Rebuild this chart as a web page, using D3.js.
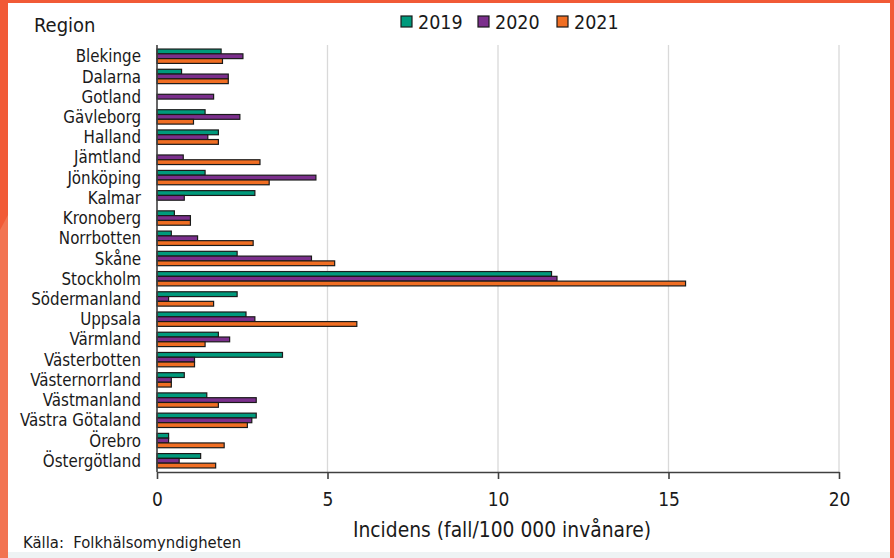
<!DOCTYPE html>
<html>
<head>
<meta charset="utf-8">
<script src="https://cdn.jsdelivr.net/npm/d3@7"></script>
<style>
  body { margin: 0; background: #fff; }
  text { font-family: "DejaVu Sans Condensed", "DejaVu Sans", sans-serif; font-stretch: condensed; fill: #1a1a1a; }
</style>
</head>
<body>
<script>
// data
var regions = ["Blekinge", "Dalarna", "Gotland", "Gävleborg", "Halland", "Jämtland", "Jönköping",
  "Kalmar", "Kronoberg", "Norrbotten", "Skåne", "Stockholm", "Södermanland", "Uppsala",
  "Värmland", "Västerbotten", "Västernorrland", "Västmanland", "Västra Götaland", "Örebro", "Östergötland"];
var years = ["2019", "2020", "2021"];
var v2019 = [1.88, 0.72, 0, 1.41, 1.80, 0, 1.41, 2.87, 0.51, 0.42, 2.35, 11.57, 2.35, 2.61, 1.80, 3.68, 0.80, 1.46, 2.91, 0.34, 1.28];
var v2020 = [2.52, 2.09, 1.66, 2.43, 1.49, 0.77, 4.66, 0.80, 0.98, 1.19, 4.53, 11.73, 0.34, 2.87, 2.13, 1.10, 0.42, 2.91, 2.78, 0.34, 0.65];
var v2021 = [1.92, 2.09, 0, 1.07, 1.80, 3.02, 3.29, 0, 0.98, 2.82, 5.21, 15.5, 1.66, 5.86, 1.41, 1.10, 0.42, 1.80, 2.65, 1.97, 1.72];
var xTicks = [0, 5, 10, 15, 20];

var colours = { "2019": "#009a7c", "2020": "#7b2f8c", "2021": "#f06e23" };
var series = { "2019": v2019, "2020": v2020, "2021": v2021 };

var W = 894, H = 558;
var svg = d3.select("body").append("svg")
    .attr("width", W)
    .attr("height", H);

// slide frame
svg.append("rect").attr("width", W).attr("height", H).attr("fill", "#fff");
svg.append("rect").attr("x", 8).attr("y", 552).attr("width", 882).attr("height", 6).attr("fill", "#eef3f4");
svg.append("rect").attr("x", 0).attr("y", 0).attr("width", W).attr("height", 3).attr("fill", "#f15a36");
svg.append("rect").attr("x", 0).attr("y", 0).attr("width", 8).attr("height", H).attr("fill", "#f15a36");
svg.append("path").attr("d", "M0,230 L8,215 L8,558 L0,558 Z").attr("fill", "#f27452");
svg.append("rect").attr("x", 890).attr("y", 0).attr("width", 4).attr("height", H).attr("fill", "#f15a36");

var x = d3.scaleLinear().domain([0, 20]).range([157, 839]);
var y = d3.scaleBand().domain(regions).range([45, 472]).paddingInner(0.29).paddingOuter(0.2);
var yy = d3.scaleBand().domain(years).range([0, y.bandwidth()]);

// gridlines
svg.append("g").selectAll("line")
    .data(xTicks.slice(1))
    .enter().append("line")
    .attr("x1", function(d) { return x(d); })
    .attr("x2", function(d) { return x(d); })
    .attr("y1", 45)
    .attr("y2", 472)
    .attr("stroke", "#d9d9d9")
    .attr("stroke-width", 1.3);

// bars
var rows = [];
regions.forEach(function(r, i) {
  years.forEach(function(yr) {
    if (series[yr][i] > 0) rows.push({ region: r, year: yr, value: series[yr][i] });
  });
});

svg.append("g").selectAll("rect")
    .data(rows)
    .enter().append("rect")
    .attr("x", x(0))
    .attr("y", function(d) { return y(d.region) + yy(d.year); })
    .attr("width", function(d) { return x(d.value) - x(0); })
    .attr("height", yy.bandwidth())
    .attr("fill", function(d) { return colours[d.year]; })
    .attr("stroke", "#1a1a1a")
    .attr("stroke-width", 1.2);

// x axis
var xAxis = svg.append("g")
    .attr("transform", "translate(0,472)")
    .call(d3.axisBottom(x).tickValues(xTicks).tickSize(7).tickSizeOuter(0).tickPadding(14));
xAxis.select(".domain").attr("stroke", "#404040").attr("stroke-width", 1.6);
xAxis.selectAll(".tick line").attr("stroke", "#404040").attr("stroke-width", 1.6);
xAxis.selectAll(".tick text")
    .style("font-size", "19px")
    .attr("fill", "#1a1a1a");

// y axis line
svg.append("line")
    .attr("x1", x(0)).attr("x2", x(0))
    .attr("y1", 45).attr("y2", 472)
    .attr("stroke", "#404040")
    .attr("stroke-width", 1.6);

// region labels
svg.append("g").selectAll("text")
    .data(regions)
    .enter().append("text")
    .attr("x", 141)
    .attr("y", function(d) { return y(d) + y.bandwidth() / 2; })
    .attr("dy", "0.36em")
    .attr("text-anchor", "end")
    .style("font-size", "16.8px")
    .text(function(d) { return d; });

svg.append("text")
    .attr("x", 34).attr("y", 32)
    .style("font-size", "20px")
    .text("Region");

// legend
var legendX = [401, 478, 557];
var leg = svg.append("g").selectAll("g")
    .data(years)
    .enter().append("g")
    .attr("transform", function(d, i) { return "translate(" + legendX[i] + ",16)"; });
leg.append("rect")
    .attr("width", 11).attr("height", 11)
    .attr("fill", function(d) { return colours[d]; })
    .attr("stroke", "#1a1a1a")
    .attr("stroke-width", 1.2);
leg.append("text")
    .attr("x", 17).attr("y", 13)
    .style("font-size", "19.5px")
    .text(function(d) { return d; });

// axis title and source
svg.append("text")
    .attr("x", 502).attr("y", 537)
    .attr("text-anchor", "middle")
    .style("font-size", "20.8px")
    .text("Incidens (fall/100\u00a0000 invånare)");

svg.append("text")
    .attr("x", 23).attr("y", 548)
    .style("font-size", "16.5px")
    .text("Källa:\u00a0 Folkhälsomyndigheten");
</script>
</body>
</html>
